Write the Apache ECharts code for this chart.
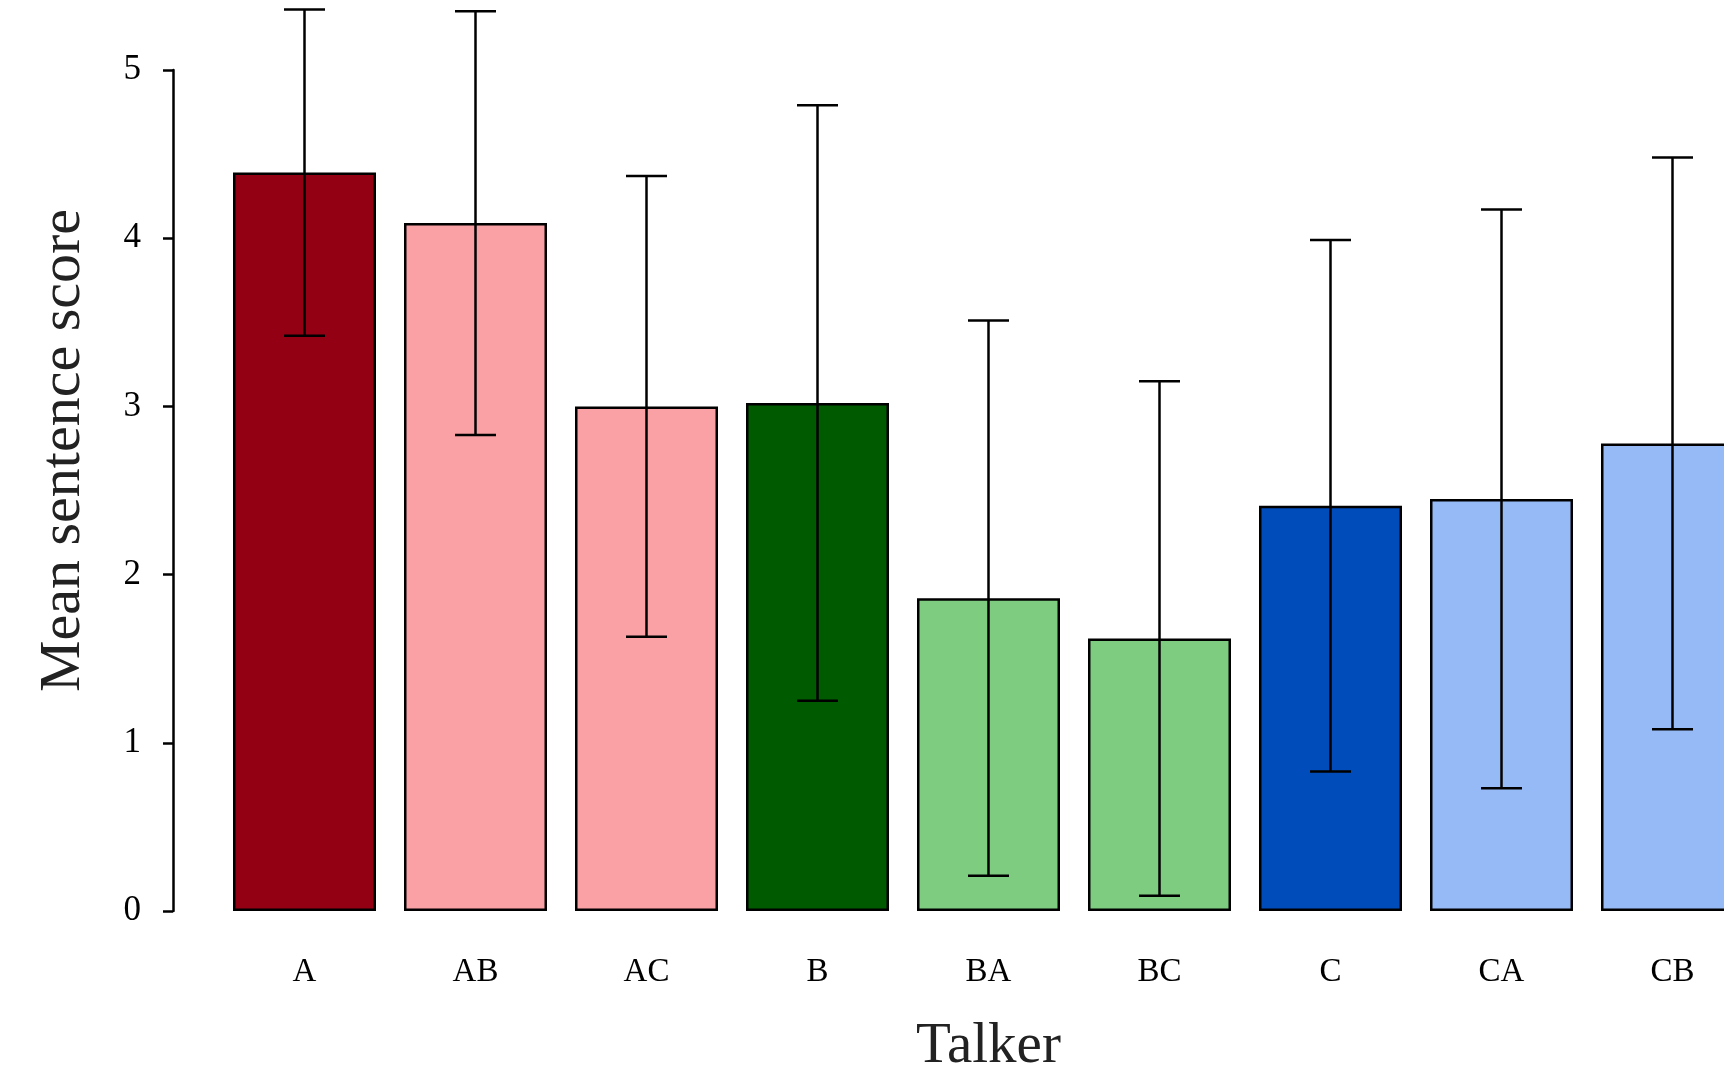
<!DOCTYPE html>
<html>
<head>
<meta charset="utf-8">
<title>Mean sentence score by talker</title>
<script src="https://cdn.jsdelivr.net/npm/echarts@6/dist/echarts.min.js"></script>
<style>
  html, body { margin: 0; padding: 0; background: #fff; }
  #main { width: 1724px; height: 1073px; }
</style>
</head>
<body>
<div id="main"></div>
<script>
// 数据
var talkers = ["A", "AB", "AC", "B", "BA", "BC", "C", "CA", "CB"];
var means = [4.39, 4.09, 3.00, 3.02, 1.86, 1.62, 2.41, 2.45, 2.78];
var errors = [0.97, 1.26, 1.37, 1.77, 1.65, 1.53, 1.58, 1.72, 1.70];
var barColors = ["#930014", "#f9a1a5", "#f9a1a5", "#005a00", "#7dcc80", "#7dcc80", "#004cbb", "#96baf5", "#96baf5"];
var yTicks = [0, 1, 2, 3, 4, 5];

var chart = echarts.init(document.getElementById("main"));

var barData = means.map(function(v, i) {
  return { value: v, itemStyle: { color: barColors[i] } };
});
var errData = means.map(function(v, i) {
  return [i, v - errors[i], v + errors[i]];
});

var serif = "Liberation Serif";

var option = {
  backgroundColor: "#ffffff",
  animation: false,
  grid: {
    left: 219,
    right: -34,
    top: 70,
    bottom: 162,
    containLabel: false,
    outerBoundsMode: "none"
  },
  xAxis: {
    type: "category",
    data: talkers,
    name: "Talker",
    nameLocation: "middle",
    nameGap: 108,
    nameTextStyle: {
      fontFamily: serif,
      fontSize: 57,
      color: "#222"
    },
    axisLine: { show: false },
    axisTick: { show: false },
    axisLabel: {
      fontFamily: serif,
      fontSize: 33,
      color: "#000",
      margin: 45
    }
  },
  yAxis: {
    type: "value",
    min: yTicks[0],
    max: yTicks[yTicks.length - 1],
    interval: 1,
    offset: 46,
    name: "Mean sentence score",
    nameLocation: "middle",
    nameGap: 80,
    nameRotate: 90,
    nameTextStyle: {
      fontFamily: serif,
      fontSize: 58,
      color: "#222",
      padding: [0, 0, 0, 80]
    },
    splitLine: { show: false },
    axisLine: { show: true, lineStyle: { color: "#000", width: 2.5 } },
    axisTick: { show: true, length: 10, lineStyle: { color: "#000", width: 2.5 } },
    axisLabel: {
      fontFamily: serif,
      fontSize: 35,
      color: "#000",
      margin: 32
    }
  },
  series: [
    {
      // 柱状图
      type: "bar",
      data: barData,
      barWidth: 143,
      itemStyle: { borderColor: "#000", borderWidth: 2.5 }
    },
    {
      // 误差线
      type: "custom",
      clip: false,
      data: errData,
      z: 5,
      renderItem: function(params, api) {
        var lo = api.coord([api.value(0), api.value(1)]);
        var hi = api.coord([api.value(0), api.value(2)]);
        var half = 20.5;
        var style = { stroke: "#000", lineWidth: 2.5 };
        return {
          type: "group",
          children: [
            { type: "line", shape: { x1: lo[0], y1: lo[1], x2: hi[0], y2: hi[1] }, style: style },
            { type: "line", shape: { x1: lo[0] - half, y1: lo[1], x2: lo[0] + half, y2: lo[1] }, style: style },
            { type: "line", shape: { x1: hi[0] - half, y1: hi[1], x2: hi[0] + half, y2: hi[1] }, style: style }
          ]
        };
      }
    }
  ]
};

chart.setOption(option);
</script>
</body>
</html>
